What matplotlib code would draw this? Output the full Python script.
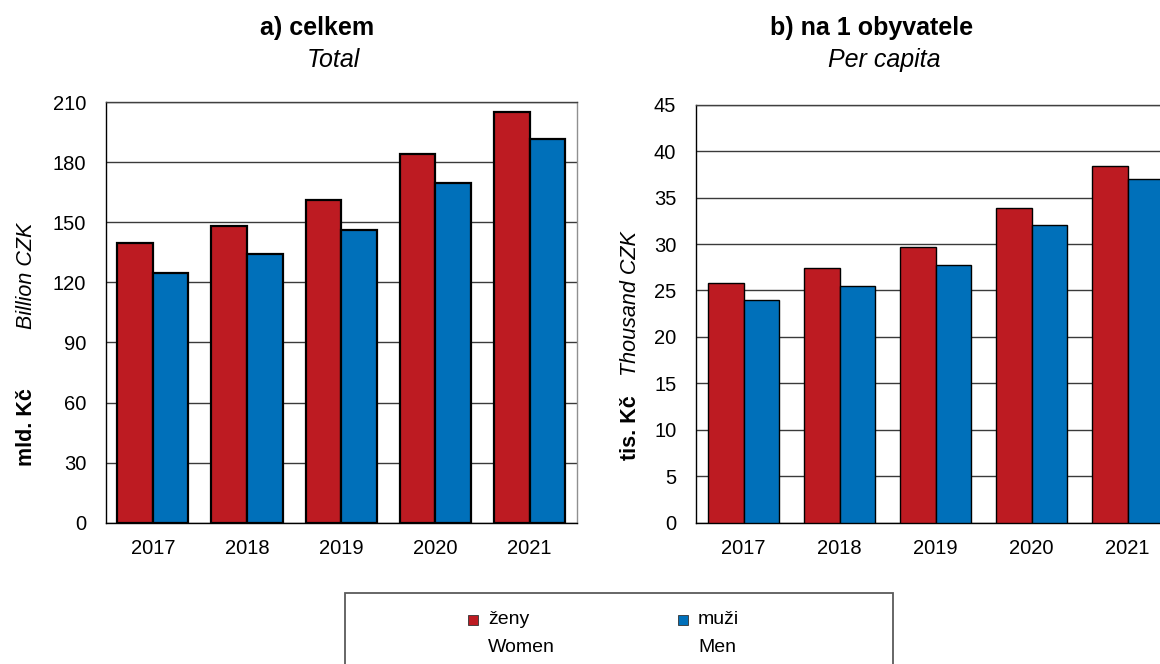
import matplotlib
matplotlib.use("Agg")
import matplotlib.pyplot as plt
import numpy as np
from matplotlib.patches import Rectangle

plt.rcParams['font.family'] = ['Liberation Sans', 'DejaVu Sans']

years = ['2017', '2018', '2019', '2020', '2021']
total_women = [139.5, 148.2, 161.0, 183.8, 204.8]
total_men = [124.8, 134.0, 146.0, 169.5, 191.5]
percap_women = [25.8, 27.4, 29.7, 33.9, 38.4]
percap_men = [24.0, 25.5, 27.7, 32.1, 37.0]

RED = '#BD1B22'
BLUE = '#0070BA'

W, H = 1160, 664
fig = plt.figure(figsize=(W / 100, H / 100), dpi=100)


def px_axes(x0, y_top, x1, y_bot):
    return [x0 / W, 1 - y_bot / H, (x1 - x0) / W, (y_bot - y_top) / H]


def draw_panel(ax, women, men, ymax, step, bw, elw):
    x = np.arange(len(years))
    ax.bar(x - bw / 2, women, width=bw, color=RED, edgecolor='black', linewidth=elw, zorder=3)
    ax.bar(x + bw / 2, men, width=bw, color=BLUE, edgecolor='black', linewidth=elw, zorder=3)
    ax.set_xlim(-0.5, len(years) - 0.5)
    ax.set_ylim(0, ymax)
    ax.set_yticks(np.arange(0, ymax + 0.1, step))
    ax.set_xticks(x)
    ax.set_xticklabels(years)
    ax.yaxis.grid(True, color='#3a3a3a', linewidth=1.0, zorder=0)
    ax.set_axisbelow(True)
    ax.tick_params(axis='both', length=0, labelsize=14.5)
    ax.tick_params(axis='y', pad=14)
    ax.tick_params(axis='x', pad=12)
    ax.spines['left'].set_color('black')
    ax.spines['bottom'].set_color('black')
    ax.spines['top'].set_color('#404040')
    ax.spines['right'].set_color('#909090')
    for s in ax.spines.values():
        s.set_linewidth(1.0)


ax1 = fig.add_axes(px_axes(105.7, 102, 576.7, 522.7))
draw_panel(ax1, total_women, total_men, 210, 30, 0.377, 1.6)

ax2 = fig.add_axes(px_axes(695.7, 104.7, 1175.7, 522.7))
draw_panel(ax2, percap_women, percap_men, 45, 5, 0.371, 1.0)

# Titles
fig.text(316.7 / W, 1 - 28 / H, 'a) celkem', ha='center', va='center', fontsize=18, fontweight='bold')
fig.text(333 / W, 1 - 60 / H, 'Total', ha='center', va='center', fontsize=18, fontstyle='italic')
fig.text(871.7 / W, 1 - 28 / H, 'b) na 1 obyvatele', ha='center', va='center', fontsize=18, fontweight='bold')
fig.text(884 / W, 1 - 60 / H, 'Per capita', ha='center', va='center', fontsize=18, fontstyle='italic')

# Y labels
fig.text(26 / W, 1 - 427 / H, 'mld. Kč', rotation=90, ha='center', va='center', fontsize=15.5, fontweight='bold')
fig.text(27 / W, 1 - 276 / H, 'Billion CZK', rotation=90, ha='center', va='center', fontsize=15.5, fontstyle='italic')
fig.text(630 / W, 1 - 428 / H, 'tis. Kč', rotation=90, ha='center', va='center', fontsize=15.5, fontweight='bold')
fig.text(631 / W, 1 - 303.5 / H, 'Thousand CZK', rotation=90, ha='center', va='center', fontsize=15.5, fontstyle='italic')

# Legend box
fig.patches.append(Rectangle((345 / W, -0.05), (892.7 - 345) / W, (1 - 593.3 / H) + 0.05,
                             transform=fig.transFigure, facecolor='white', edgecolor='#5a5a5a',
                             linewidth=1.3, zorder=1))
legend_items = [('ženy', 'Women', RED, 468), ('muži', 'Men', BLUE, 678)]
for l1, l2, col, xs in legend_items:
    fig.patches.append(Rectangle((xs / W, 1 - 625 / H), 10 / W, 10 / H, transform=fig.transFigure,
                                 facecolor=col, edgecolor='#333333', linewidth=0.6, zorder=2))
    fig.text((xs + 20) / W, 1 - 620 / H, l1, ha='left', va='center', fontsize=14)
    fig.text((xs + 20) / W, 1 - 647 / H, l2, ha='left', va='center', fontsize=14)

fig.savefig('out.png', dpi=100)
